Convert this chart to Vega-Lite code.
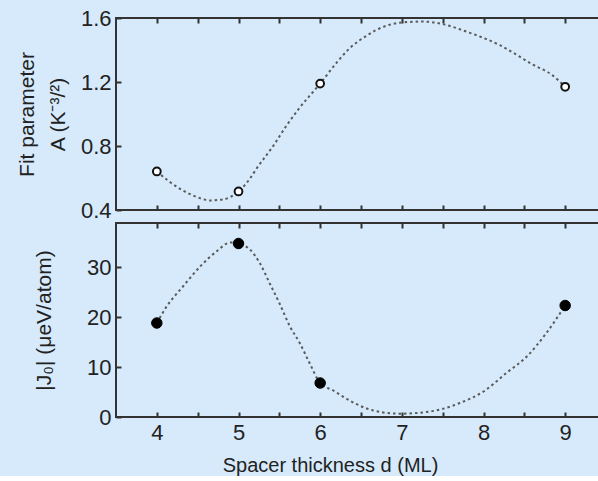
{
  "$schema": "https://vega.github.io/schema/vega-lite/v6.json",
  "autosize": {"type": "pad"},
  "padding": {"left": 15, "top": 6, "right": 0, "bottom": 0},
  "background": "#d6eafc",
  "spacing": -1,
  "config": {
    "view": {"stroke": "#333333", "strokeWidth": 2},
    "font": "Liberation Sans",
    "axis": {
      "labelFont": "Liberation Sans",
      "titleFont": "Liberation Sans",
      "labelColor": "#222222",
      "titleColor": "#222222",
      "labelFontSize": 22,
      "titleFontSize": 21,
      "titleFontWeight": "normal",
      "domain": false,
      "grid": false,
      "tickColor": "#333333",
      "tickWidth": 2,
      "tickSize": -5,
      "labelPadding": 10
    }
  },
  "datasets": {
    "curveA": [
      {"d": 4.0, "A": 0.641}, {"d": 4.16, "A": 0.575}, {"d": 4.32, "A": 0.522}, {"d": 4.49, "A": 0.481},
      {"d": 4.65, "A": 0.46}, {"d": 4.81, "A": 0.466}, {"d": 5.0, "A": 0.516}, {"d": 5.14, "A": 0.596},
      {"d": 5.22, "A": 0.658}, {"d": 5.43, "A": 0.804}, {"d": 5.59, "A": 0.929}, {"d": 5.75, "A": 1.04},
      {"d": 6.0, "A": 1.19}, {"d": 6.2, "A": 1.32}, {"d": 6.36, "A": 1.41}, {"d": 6.57, "A": 1.49},
      {"d": 6.77, "A": 1.544}, {"d": 6.97, "A": 1.57}, {"d": 7.25, "A": 1.578}, {"d": 7.5, "A": 1.562},
      {"d": 7.79, "A": 1.515}, {"d": 8.2, "A": 1.43}, {"d": 8.6, "A": 1.31}, {"d": 8.85, "A": 1.24},
      {"d": 9.0, "A": 1.17}
    ],
    "pointsA": [
      {"d": 4, "A": 0.641}, {"d": 5, "A": 0.516}, {"d": 6, "A": 1.19}, {"d": 9, "A": 1.17}
    ],
    "curveJ": [
      {"d": 4.0, "J": 18.8}, {"d": 4.12, "J": 22.1}, {"d": 4.32, "J": 26.1}, {"d": 4.53, "J": 30.1},
      {"d": 4.73, "J": 33.1}, {"d": 4.9, "J": 34.9}, {"d": 5.0, "J": 34.7}, {"d": 5.14, "J": 33.5},
      {"d": 5.26, "J": 30.8}, {"d": 5.38, "J": 26.8}, {"d": 5.5, "J": 22.8}, {"d": 5.63, "J": 18.1},
      {"d": 5.75, "J": 14.8}, {"d": 5.87, "J": 10.8}, {"d": 6.0, "J": 6.8}, {"d": 6.16, "J": 5.3},
      {"d": 6.36, "J": 3.3}, {"d": 6.57, "J": 1.7}, {"d": 6.77, "J": 0.9}, {"d": 6.98, "J": 0.66},
      {"d": 7.18, "J": 0.8}, {"d": 7.47, "J": 1.5}, {"d": 7.71, "J": 2.8}, {"d": 8.0, "J": 5.1},
      {"d": 8.28, "J": 8.8}, {"d": 8.53, "J": 12.1}, {"d": 8.77, "J": 16.8}, {"d": 9.0, "J": 22.3}
    ],
    "pointsJ": [
      {"d": 4, "J": 18.8}, {"d": 5, "J": 34.7}, {"d": 6, "J": 6.8}, {"d": 9, "J": 22.3}
    ]
  },
  "vconcat": [
    {
      "width": 490,
      "height": 192,
      "resolve": {"axis": {"x": "independent"}},
      "layer": [
        {
          "data": {"name": "curveA"},
          "mark": {"type": "line", "interpolate": "monotone", "stroke": "#5a5a5a", "strokeWidth": 2, "strokeDash": [2.5, 3]},
          "encoding": {
            "x": {"field": "d", "type": "quantitative", "scale": {"domain": [3.5, 9.5], "nice": false, "zero": false},
                  "axis": {"orient": "bottom", "title": null, "labels": false, "values": [4, 4.5, 5, 5.5, 6, 6.5, 7, 7.5, 8, 8.5, 9, 9.5]}},
            "y": {"field": "A", "type": "quantitative", "scale": {"domain": [0.4, 1.6], "nice": false, "zero": false},
                  "axis": {"orient": "left", "values": [0.4, 0.8, 1.2, 1.6], "format": ".1f", "title": ["Fit parameter", "A (K⁻³/²)"], "titlePadding": 12, "titleLineHeight": 31}}
          }
        },
        {
          "data": {"name": "pointsA"},
          "mark": {"type": "point", "filled": true, "fill": "#ffffff", "stroke": "#111111", "strokeWidth": 2, "size": 60, "opacity": 1},
          "encoding": {
            "x": {"field": "d", "type": "quantitative",
                  "axis": {"orient": "top", "title": null, "labels": false, "values": [4, 4.5, 5, 5.5, 6, 6.5, 7, 7.5, 8, 8.5, 9, 9.5]}},
            "y": {"field": "A", "type": "quantitative"}
          }
        },
        {
          "mark": {"type": "text", "text": "(a)", "font": "Liberation Sans", "fontSize": 22, "color": "#222222"},
          "encoding": {
            "x": {"datum": 9.17, "type": "quantitative", "axis": null},
            "y": {"datum": 1.433, "type": "quantitative"}
          }
        }
      ]
    },
    {
      "width": 490,
      "height": 194,
      "resolve": {"axis": {"x": "independent"}},
      "layer": [
        {
          "data": {"name": "curveJ"},
          "mark": {"type": "line", "interpolate": "monotone", "stroke": "#5a5a5a", "strokeWidth": 2, "strokeDash": [2.5, 3]},
          "encoding": {
            "x": {"field": "d", "type": "quantitative", "scale": {"domain": [3.5, 9.5], "nice": false, "zero": false},
                  "axis": {"orient": "bottom", "title": "Spacer thickness d (ML)", "titleFontSize": 20, "titlePadding": 12, "titleX": 214,
                           "values": [4, 4.5, 5, 5.5, 6, 6.5, 7, 7.5, 8, 8.5, 9, 9.5], "labelExpr": "datum.value % 1 == 0 ? format(datum.value, 'd') : ''"}},
            "y": {"field": "J", "type": "quantitative", "scale": {"domain": [0, 38.8], "nice": false},
                  "axis": {"orient": "left", "values": [0, 10, 20, 30], "title": "|J₀| (μeV/atom)", "titlePadding": 32}}
          }
        },
        {
          "data": {"name": "pointsJ"},
          "mark": {"type": "point", "filled": true, "fill": "#000000", "stroke": "#000000", "strokeWidth": 1, "size": 110, "opacity": 1},
          "encoding": {
            "x": {"field": "d", "type": "quantitative",
                  "axis": {"orient": "top", "title": null, "labels": false, "values": [4, 4.5, 5, 5.5, 6, 6.5, 7, 7.5, 8, 8.5, 9, 9.5]}},
            "y": {"field": "J", "type": "quantitative"}
          }
        },
        {
          "mark": {"type": "text", "text": "(b)", "font": "Liberation Sans", "fontSize": 22, "color": "#222222"},
          "encoding": {
            "x": {"datum": 9.16, "type": "quantitative", "axis": null},
            "y": {"datum": 32.1, "type": "quantitative"}
          }
        }
      ]
    }
  ]
}
